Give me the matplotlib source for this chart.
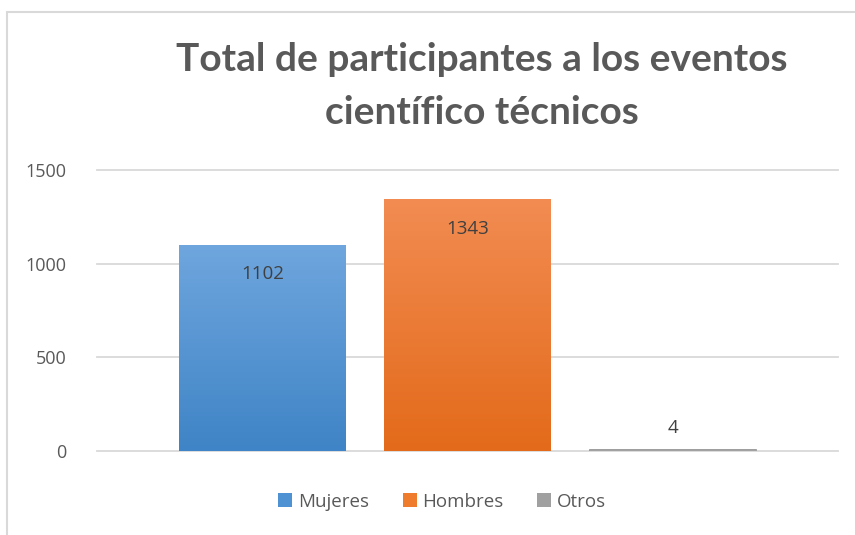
import numpy as np
import matplotlib
matplotlib.use("Agg")
import matplotlib.pyplot as plt
from matplotlib.patches import Patch, Rectangle
from matplotlib.colors import LinearSegmentedColormap

# data
categorias = ["Mujeres", "Hombres", "Otros"]
valores = [1102, 1343, 4]
colores_top = ["#6fa6de", "#f28c52", "#b0b0b0"]
colores_bottom = ["#3f84c6", "#e36a1a", "#8c8c8c"]
colores_legend = ["#4e92d4", "#ef7b2c", "#a0a0a0"]
yticks = [0, 500, 1000, 1500]

txt = "#595959"
plt.rcParams["font.family"] = ["Open Sans", "DejaVu Sans"]

fig = plt.figure(figsize=(8.55, 5.35), dpi=100)
ax = fig.add_axes([97 / 855, 84 / 535, 741 / 855, 281 / 535])

x = np.arange(len(valores))
w = 0.81
bars = ax.bar(x, valores, width=w, color="none", zorder=3)

# gradient fill for each bar
for b, c0, c1 in zip(bars, colores_top, colores_bottom):
    cmap = LinearSegmentedColormap.from_list("g", [c1, c0])
    grad = np.linspace(0, 1, 256).reshape(-1, 1)
    x0, y0 = b.get_x(), b.get_y()
    im = ax.imshow(grad, cmap=cmap, origin="lower", aspect="auto",
                   extent=[x0, x0 + b.get_width(), y0, y0 + max(b.get_height(), 4)],
                   zorder=3)
    im.set_clip_path(b)
bars[2].set_edgecolor("#8c8c8c")
bars[2].set_linewidth(1.2)

# value labels
for i, v in enumerate(valores):
    if v > 100:
        ax.annotate(str(v), (x[i], v), xytext=(0, -21), textcoords="offset points",
                    ha="center", va="center", fontsize=13.5, color="#404040")
    else:
        ax.annotate(str(v), (x[i], v), xytext=(0, 16), textcoords="offset points",
                    ha="center", va="center", fontsize=13.5, color="#404040")

ax.set_xlim(-0.805, 2.805)
ax.set_ylim(0, 1500)
ax.set_yticks(yticks)
ax.set_yticklabels([str(t) for t in yticks], fontsize=13, color=txt)
ax.set_xticks([])
ax.tick_params(axis="y", length=0, pad=22)
ax.grid(axis="y", color="#d9d9d9", linewidth=1.3, zorder=0)
for gl in ax.get_ygridlines():
    gl.set_clip_on(False)
for s in ax.spines.values():
    s.set_visible(False)

fig.suptitle("Total de participantes a los eventos\ncientífico técnicos",
             x=0.564, y=0.921, fontsize=28, fontweight="bold", color=txt,
             family=["Lato", "DejaVu Sans"], linespacing=1.6)

handles = [Patch(facecolor=c, edgecolor="none") for c in colores_legend]
fig.legend(handles, categorias, loc="center", bbox_to_anchor=(0.517, 0.062),
           ncol=3, frameon=False, fontsize=13.5, handlelength=0.75, handleheight=0.75,
           handletextpad=0.3, columnspacing=1.8, labelcolor=txt)

# chart frame
fig.patches.append(Rectangle((7 / 855, -0.1), 1.2, 1 - 12 / 535 + 0.1,
                             transform=fig.transFigure, fill=False,
                             edgecolor="#d9d9d9", linewidth=1.5))

fig.savefig("out.png", dpi=100)
